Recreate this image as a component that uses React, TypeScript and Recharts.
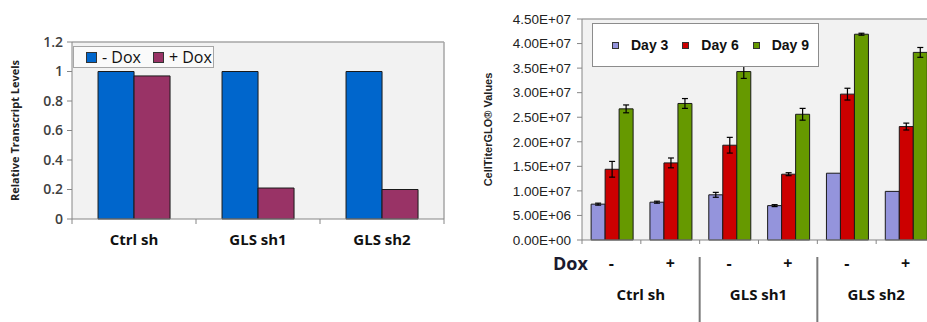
import React from 'react';
import { BarChart, Bar, XAxis, YAxis, CartesianGrid, Legend, ReferenceLine, ErrorBar } from 'recharts';

// ---- Left chart data ----
const leftCategories = ['Ctrl sh', 'GLS sh1', 'GLS sh2'];
const leftSeriesNames = ['- Dox', '+ Dox'];
const minusDox = [1, 1, 1];
const plusDox = [0.97, 0.21, 0.2];
const leftTicks = [0, 0.2, 0.4, 0.6, 0.8, 1, 1.2];

// ---- Right chart data ----
const doxSigns = ['-', '+', '-', '+', '-', '+'];
const groupNames = ['Ctrl sh', 'GLS sh1', 'GLS sh2'];
const rightSeriesNames = ['Day 3', 'Day 6', 'Day 9'];
const day3 = [7.3e6, 7.7e6, 9.2e6, 7.0e6, 1.36e7, 9.9e6];
const day6 = [1.44e7, 1.57e7, 1.93e7, 1.34e7, 2.97e7, 2.31e7];
const day9 = [2.67e7, 2.78e7, 3.43e7, 2.56e7, 4.19e7, 3.82e7];
const err3 = [2e5, 2e5, 5e5, 2e5, 0, 0];
const err6 = [1.6e6, 1.0e6, 1.6e6, 3e5, 1.2e6, 7e5];
const err9 = [8e5, 1.0e6, 1.4e6, 1.2e6, 2e5, 1.0e6];
const rightTicks = [0, 5e6, 1e7, 1.5e7, 2e7, 2.5e7, 3e7, 3.5e7, 4e7, 4.5e7];

const leftData = leftCategories.map((c, i) => ({ cat: c, minus: minusDox[i], plus: plusDox[i] }));
const rightData = doxSigns.map((s, i) => ({
  cat: groupNames[Math.floor(i / 2)] + ' ' + s,
  d3: day3[i], e3: err3[i],
  d6: day6[i], e6: err6[i],
  d9: day9[i], e9: err9[i],
}));

const BLUE = '#0066cc';
const PURPLE = '#993366';
const LAV = '#9494dc';
const RED = '#cc0000';
const GREEN = '#669900';
const AXIS = '#868686';
const PLOTBG = '#f2f2f2';

const sci = (v: number) => {
  if (v === 0) return '0.00E+00';
  const e = Math.floor(Math.log10(v) + 1e-9);
  const m = v / Math.pow(10, e);
  return m.toFixed(2) + 'E+' + String(e).padStart(2, '0');
};

const orderBy = (items: any[], names: string[]) =>
  names.map((n) => items.find((it: any) => it.value === n)).filter(Boolean);

const LeftTick = (props: any) => {
  const { x, y, payload, index } = props;
  const off = payload && typeof payload.offset === 'number' ? payload.offset : 62;
  return (
    <g>
      <line x1={x - off} x2={x - off} y1={y} y2={y + 5} stroke={AXIS} />
      {index === leftCategories.length - 1 && <line x1={x + off} x2={x + off} y1={y} y2={y + 5} stroke={AXIS} />}
      <text x={x} y={y + 26} textAnchor="middle" fontSize={15} fontWeight="bold" fontFamily="Open Sans" fill="#111">
        {payload.value}
      </text>
    </g>
  );
};

const RightTick = (props: any) => {
  const { x, y, payload, index } = props;
  const off = payload && typeof payload.offset === 'number' ? payload.offset : 29.4;
  return (
    <g fontFamily="Open Sans" fontWeight="bold" fill="#111">
      <line x1={x - off} x2={x - off} y1={y} y2={y + 4} stroke={AXIS} />
      {index === doxSigns.length - 1 && <line x1={x + off} x2={x + off} y1={y} y2={y + 4} stroke={AXIS} />}
      <text x={x} y={y + 29} textAnchor="middle" fontSize={16}>{doxSigns[index]}</text>
      {index === 0 && (
        <text x={x - 41} y={y + 30} textAnchor="middle" fontSize={18} fill="#1a1a2e">Dox</text>
      )}
      {index % 2 === 0 && (
        <text x={x + off} y={y + 60} textAnchor="middle" fontSize={15}>{groupNames[index / 2]}</text>
      )}
      {index > 0 && index % 2 === 0 && (
        <line x1={x - off} x2={x - off} y1={y + 17} y2={y + 82} stroke="#7a7a7a" strokeWidth={2} />
      )}
    </g>
  );
};

const LeftLegend = (props: any) => {
  const items = orderBy(props.payload || [], leftSeriesNames);
  return (
    <div style={{
      boxSizing: 'border-box', width: 141, height: 22, border: '1px solid #a6a6a6', background: '#fafafa',
      display: 'flex', alignItems: 'center', paddingLeft: 12, fontFamily: 'Open Sans', fontSize: 16, color: '#111',
      whiteSpace: 'nowrap',
    }}>
      {items.map((it: any, i: number) => (
        <span key={i} style={{ display: 'flex', alignItems: 'center', flexShrink: 0, marginRight: i === 0 ? 12 : 0 }}>
          <span style={{ display: 'inline-block', width: 9, height: 9, background: it.color, border: '1px solid #333', marginRight: 5 }} />
          <span>{it.value}</span>
        </span>
      ))}
    </div>
  );
};

const RightLegend = (props: any) => {
  const items = orderBy(props.payload || [], rightSeriesNames);
  return (
    <div style={{
      boxSizing: 'border-box', width: 227, height: 44, border: '1px solid #8c8c8c', background: '#ffffff',
      display: 'flex', alignItems: 'center', paddingLeft: 19, fontFamily: 'Liberation Sans', fontWeight: 'bold',
      fontSize: 14, color: '#111', whiteSpace: 'nowrap',
    }}>
      {items.map((it: any, i: number) => (
        <span key={i} style={{ display: 'flex', alignItems: 'center', flexShrink: 0, marginRight: 14 }}>
          <span style={{ display: 'inline-block', width: 5, height: 5, background: it.color, border: '1px solid #333', marginRight: 12 }} />
          <span>{it.value}</span>
        </span>
      ))}
    </div>
  );
};

export default function App() {
  return (
    <div style={{ position: 'absolute', left: 0, top: 0, width: 927, height: 322, overflow: 'hidden', background: '#fff' }}>
      <div style={{ position: 'absolute', left: 0, top: 0 }}>
        <BarChart width={460} height={260} data={leftData} margin={{ top: 42, right: 16, bottom: 11, left: 0 }}
          barCategoryGap="21%" barGap={0}>
          <CartesianGrid horizontal={false} vertical={false} fill={PLOTBG} />
          <XAxis dataKey="cat" interval={0} height={30} tickSize={0} tickMargin={0} tickLine={false}
            axisLine={{ stroke: AXIS }} tick={<LeftTick />} />
          <YAxis width={72} domain={[0, 1.2]} ticks={leftTicks} interval={0} tickSize={5} tickMargin={4}
            axisLine={{ stroke: AXIS }} tickLine={{ stroke: AXIS }}
            tick={{ fontSize: 14, fontFamily: 'Open Sans', fill: '#404040', fontWeight: 600 }}
            label={{ value: 'Relative Transcript Levels', angle: -90, position: 'insideLeft', offset: 15,
              style: { textAnchor: 'middle', fontSize: 11, fontWeight: 'bold', fontFamily: 'Open Sans', fill: '#222' } }} />
          <ReferenceLine y={1.2} stroke="#a6a6a6" strokeWidth={1.5} />
          <ReferenceLine x="GLS sh2" position="end" stroke="#a6a6a6" strokeWidth={1.5} />
          <Legend verticalAlign="middle" align="center" content={<LeftLegend />}
            wrapperStyle={{ position: 'absolute', left: 73, top: 46, width: 141, height: 22 }} />
          <Bar dataKey="minus" name="- Dox" fill={BLUE} stroke="#1a1a1a" strokeWidth={1} isAnimationActive={false} />
          <Bar dataKey="plus" name="+ Dox" fill={PURPLE} stroke="#1a1a1a" strokeWidth={1} isAnimationActive={false} />
        </BarChart>
      </div>
      <div style={{ position: 'absolute', left: 480, top: 0 }}>
        <BarChart width={470} height={322} data={rightData} margin={{ top: 19, right: 15, bottom: 0, left: 0 }}
          barCategoryGap="15.5%" barGap={0}>
          <CartesianGrid horizontal={false} vertical={false} fill={PLOTBG} />
          <XAxis dataKey="cat" interval={0} height={82} tickSize={0} tickMargin={0} tickLine={false}
            axisLine={{ stroke: AXIS }} tick={<RightTick />} />
          <YAxis width={102} domain={[0, 4.5e7]} ticks={rightTicks} interval={0} tickSize={5} tickMargin={6}
            tickFormatter={sci} axisLine={{ stroke: AXIS }} tickLine={{ stroke: AXIS }}
            tick={{ fontSize: 13.5, fontFamily: 'Liberation Sans', fill: '#222' }}
            label={{ value: 'CellTiterGLO® Values', angle: -90, position: 'insideLeft', offset: 8,
              style: { textAnchor: 'middle', fontSize: 11, fontWeight: 'bold', fontFamily: 'Liberation Sans', fill: '#222' } }} />
          <ReferenceLine y={4.5e7} stroke="#a6a6a6" strokeWidth={1.5} />
          <Legend verticalAlign="middle" align="center" content={<RightLegend />}
            wrapperStyle={{ position: 'absolute', left: 112, top: 23, width: 227, height: 44 }} />
          <Bar dataKey="d3" name="Day 3" fill={LAV} stroke="#1a1a1a" strokeWidth={1} isAnimationActive={false}>
            <ErrorBar dataKey="e3" width={3} stroke="#000" strokeWidth={1.2} />
          </Bar>
          <Bar dataKey="d6" name="Day 6" fill={RED} stroke="#1a1a1a" strokeWidth={1} isAnimationActive={false}>
            <ErrorBar dataKey="e6" width={3} stroke="#000" strokeWidth={1.2} />
          </Bar>
          <Bar dataKey="d9" name="Day 9" fill={GREEN} stroke="#1a1a1a" strokeWidth={1} isAnimationActive={false}>
            <ErrorBar dataKey="e9" width={3} stroke="#000" strokeWidth={1.2} />
          </Bar>
        </BarChart>
      </div>
    </div>
  );
}
